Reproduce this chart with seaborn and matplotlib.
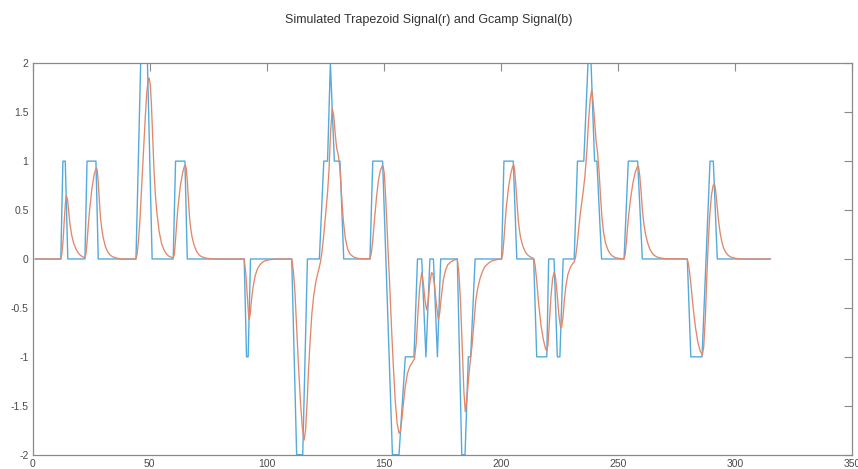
import matplotlib
matplotlib.use("Agg")
import matplotlib.pyplot as plt
import seaborn as sns

# Trapezoid stimulus: corner points of the piecewise-linear signal
trap_x = [1, 12.0, 12.9, 13.9, 15.0, 22.3, 23.2, 27.0, 28.0, 44.1, 46.1, 49.0, 51.0,
          60.0, 61.0, 65.0, 66.0, 90.3, 91.3, 92.0, 93.0, 110.6, 112.7, 115.3, 117.3,
          122.4, 124.3, 125.9, 127.1, 128.8, 131.2, 132.8, 144.0, 145.2, 149.4, 153.6,
          156.4, 159.1, 162.8, 164.3, 166.1, 167.9, 169.6, 171.1, 172.8, 174.2, 181.3,
          183.2, 184.6, 186.0, 187.0, 188.9, 200.2, 201.2, 205.2, 206.7, 213.9, 215.2,
          219.5, 220.3, 222.6, 224.0, 225.1, 226.5, 231.2, 232.6, 235.3, 237.1, 238.4,
          239.9, 240.9, 242.9, 252.5, 254.3, 258.3, 260.3, 279.5, 281.0, 285.8, 289.2,
          290.6, 292.3, 315]
trap_y = [0, 0, 1, 1, 0, 0, 1, 1, 0, 0, 2, 2, 0,
          0, 1, 1, 0, 0, -1, -1, 0, 0, -2, -2, 0,
          0, 1, 1, 2, 1, 1, 0, 0, 1, 1, -2,
          -2, -1, -1, 0, 0, -1, 0, 0, -1, 0, 0,
          -2, -2, -1, -1, 0, 0, 1, 1, 0, 0, -1,
          -1, 0, 0, -1, -1, 0, 0, 1, 1, 2, 2,
          1, 1, 0, 0, 1, 1, 0, 0, -1, -1, 1,
          1, 0, 0]

# Simulated GCaMP response
gcamp_x = [1, 12, 12.5, 13, 13.5, 14, 14.4, 14.9, 15.4, 15.9, 16.6, 17.5, 18.5, 19.5, 20.5, 21.5, 22.3,
           22.8, 23.3, 23.8, 24.3, 25.3, 26.3, 27, 27.3, 27.6, 28, 28.5, 29, 29.5, 30, 31, 32, 33, 34, 36, 38,
           44.1, 44.6, 45.2, 45.8, 46.5, 47.2, 48, 48.7, 49.3, 49.7, 50.2, 50.7, 51.2, 51.8, 52.4, 53, 54, 55,
           56, 57, 58, 60,
           60.5, 61, 61.5, 62, 63, 64, 64.8, 65.2, 65.6, 66, 66.5, 67, 67.5, 68, 69, 70, 71, 72, 74, 77,
           90.3, 91, 91.7, 92.3, 92.8, 93.3, 94, 95, 96, 97, 98, 99, 101, 104,
           110.6, 111.3, 112, 112.7, 113.5, 114.3, 115.1, 115.9, 116.5, 117.2, 117.8, 118.5, 119.2, 120, 121,
           122, 122.8, 123.5, 124.3, 125.1, 125.9, 126.5, 127.2, 127.9, 128.5, 129.2, 129.8, 130.5, 131.2,
           131.9, 132.6, 133.5, 134.5, 135.5, 137, 139, 144,
           144.6, 145.3, 146, 146.8, 147.6, 148.4, 149.2, 149.6, 150.1, 150.6, 151.2, 151.8, 152.5, 153.2,
           154, 154.8, 155.6, 156.4, 157, 157.7, 158.4, 159.1, 160, 161, 162, 163, 163.8, 164.5, 165.2,
           166.1, 166.8, 167.5, 168.2, 168.8, 169.5, 170.3, 170.8, 171.5, 172.3, 173.2, 173.8, 174.5, 175.3,
           176.2, 177.2, 178.5, 180, 181.3,
           182, 182.7, 183.4, 184.1, 184.7, 185.3, 186, 186.8, 187.6, 188.4, 189.2, 190, 191, 192, 193,
           194.5, 196, 198, 200.2,
           200.7, 201.2, 201.7, 202.2, 203.2, 204.2, 205, 205.4, 205.8, 206.3, 206.8, 207.3, 207.8, 208.3,
           209.3, 210.3, 211.3, 212.3, 213.9,
           214.5, 215.2, 216, 217, 218, 219, 219.5, 220, 220.6, 221.3, 222, 222.7, 223.3, 224, 224.7, 225.4,
           225.8, 226.4, 227, 227.7, 228.5, 229.5, 230.5, 231.2,
           231.8, 232.5, 233.2, 234, 235, 235.8, 236.6, 237.3, 238, 238.7, 239.3, 239.9, 240.5, 241.2, 241.8,
           242.4, 243, 243.7, 244.5, 245.5, 246.5, 247.5, 249, 251, 252.5,
           253, 253.5, 254, 254.5, 255.3, 256.3, 257.3, 258.3, 258.7, 259.2, 259.8, 260.4, 261, 261.6, 262.5,
           263.5, 264.5, 265.5, 267, 270, 279.5,
           280.2, 281, 282, 283, 284, 285, 285.9, 286.5, 287.2, 287.8, 288.4, 289.1, 289.8, 290.5, 291.1,
           291.6, 292.2, 292.8, 293.5, 294.2, 295, 296, 297, 298, 300, 302, 315]
gcamp_y = [0, 0, 0.06, 0.2, 0.4, 0.58, 0.65, 0.6, 0.48, 0.36, 0.25, 0.16, 0.1, 0.06, 0.035, 0.02, 0.012,
           0.06, 0.2, 0.36, 0.5, 0.72, 0.87, 0.92, 0.93, 0.9, 0.78, 0.58, 0.41, 0.31, 0.23, 0.13, 0.075, 0.042,
           0.024, 0.008, 0,
           0, 0.05, 0.2, 0.4, 0.72, 1.05, 1.42, 1.7, 1.83, 1.85, 1.78, 1.58, 1.28, 0.9, 0.65, 0.48, 0.28, 0.16,
           0.095, 0.055, 0.03, 0.01,
           0.05, 0.2, 0.37, 0.52, 0.74, 0.88, 0.95, 0.96, 0.92, 0.8, 0.6, 0.42, 0.31, 0.23, 0.135, 0.077,
           0.043, 0.024, 0.008, 0,
           0, -0.15, -0.4, -0.62, -0.58, -0.45, -0.3, -0.17, -0.1, -0.06, -0.035, -0.02, -0.008, 0,
           0, -0.12, -0.35, -0.7, -1.1, -1.45, -1.72, -1.85, -1.75, -1.45, -1.12, -0.82, -0.56, -0.37, -0.22,
           -0.12, -0.04, 0.07, 0.25, 0.47, 0.68, 0.9, 1.3, 1.54, 1.47, 1.27, 1.13, 1.06, 0.92,
           0.64, 0.4, 0.21, 0.1, 0.05, 0.02, 0.005, 0,
           0.06, 0.22, 0.42, 0.63, 0.8, 0.9, 0.95, 0.95, 0.88, 0.68, 0.38, 0.05, -0.3, -0.7,
           -1.1, -1.45, -1.68, -1.78, -1.76, -1.62, -1.45, -1.3, -1.17, -1.1, -1.06, -1.02, -0.85, -0.55, -0.3,
           -0.14, -0.25, -0.42, -0.52, -0.45, -0.25, -0.14, -0.15, -0.25, -0.45, -0.62, -0.55, -0.38, -0.22,
           -0.12, -0.06, -0.03, -0.01, 0,
           -0.15, -0.45, -0.9, -1.35, -1.56, -1.45, -1.25, -1.05, -0.88, -0.65, -0.42, -0.3, -0.2, -0.13, -0.08,
           -0.045, -0.02, -0.007, 0,
           0.05, 0.2, 0.37, 0.52, 0.74, 0.88, 0.95, 0.96, 0.9, 0.75, 0.57, 0.4, 0.3, 0.22,
           0.13, 0.074, 0.042, 0.023, 0.006,
           -0.06, -0.22, -0.45, -0.67, -0.82, -0.92, -0.94, -0.88, -0.65, -0.38, -0.2, -0.13, -0.2, -0.38, -0.58, -0.7,
           -0.7, -0.6, -0.42, -0.27, -0.16, -0.09, -0.05, -0.03,
           0.02, 0.15, 0.33, 0.5, 0.68, 0.85, 1.1, 1.4, 1.62, 1.73, 1.6, 1.42, 1.22, 1.08, 0.9,
           0.66, 0.44, 0.28, 0.17, 0.1, 0.055, 0.03, 0.012, 0.004, 0,
           0.05, 0.17, 0.33, 0.45, 0.62, 0.78, 0.89, 0.95, 0.94, 0.85, 0.68, 0.48, 0.35, 0.26, 0.17,
           0.1, 0.06, 0.035, 0.015, 0.003, 0,
           -0.08, -0.25, -0.5, -0.7, -0.85, -0.94, -0.98, -0.9, -0.6, -0.2, 0.15, 0.45, 0.65, 0.75, 0.77,
           0.7, 0.55, 0.4, 0.27, 0.18, 0.11, 0.065, 0.037, 0.02, 0.007, 0, 0]

x_ticks = [0, 50, 100, 150, 200, 250, 300, 350]
y_ticks = [-2, -1.5, -1, -0.5, 0, 0.5, 1, 1.5, 2]
y_tick_labels = ["-2", "-1.5", "-1", "-0.5", "0", "0.5", "1", "1.5", "2"]
title = "Simulated Trapezoid Signal(r) and Gcamp Signal(b)"

sns.set_theme(style="white")
plt.rcParams["font.family"] = ["Liberation Sans", "DejaVu Sans"]

fig = plt.figure(figsize=(8.58, 4.69), dpi=100)
ax = fig.add_axes([0.0381, 0.0305, 0.9554, 0.8346])

sns.lineplot(x=trap_x, y=trap_y, ax=ax, color="#55aadc", linewidth=1.0,
             sort=False, estimator=None)
sns.lineplot(x=gcamp_x, y=gcamp_y, ax=ax, color="#e2886a", linewidth=0.95,
             sort=False, estimator=None)

ax.set_xlim(0, 350)
ax.set_ylim(-2, 2)
ax.set_xticks(x_ticks)
ax.set_yticks(y_ticks)
ax.set_yticklabels(y_tick_labels)

axis_grey = "#8a8a8a"
for sp in ax.spines.values():
    sp.set_visible(True)
    sp.set_color(axis_grey)
    sp.set_linewidth(0.9)
ax.tick_params(direction="in", length=5.8, width=0.8, color=axis_grey,
               top=True, right=True, labelsize=7.5, labelcolor="#4a4a4a", pad=3)

fig.suptitle(title, x=0.5, y=0.957, va="center", fontsize=9, color="#333333")

fig.savefig("out.png", dpi=100)
